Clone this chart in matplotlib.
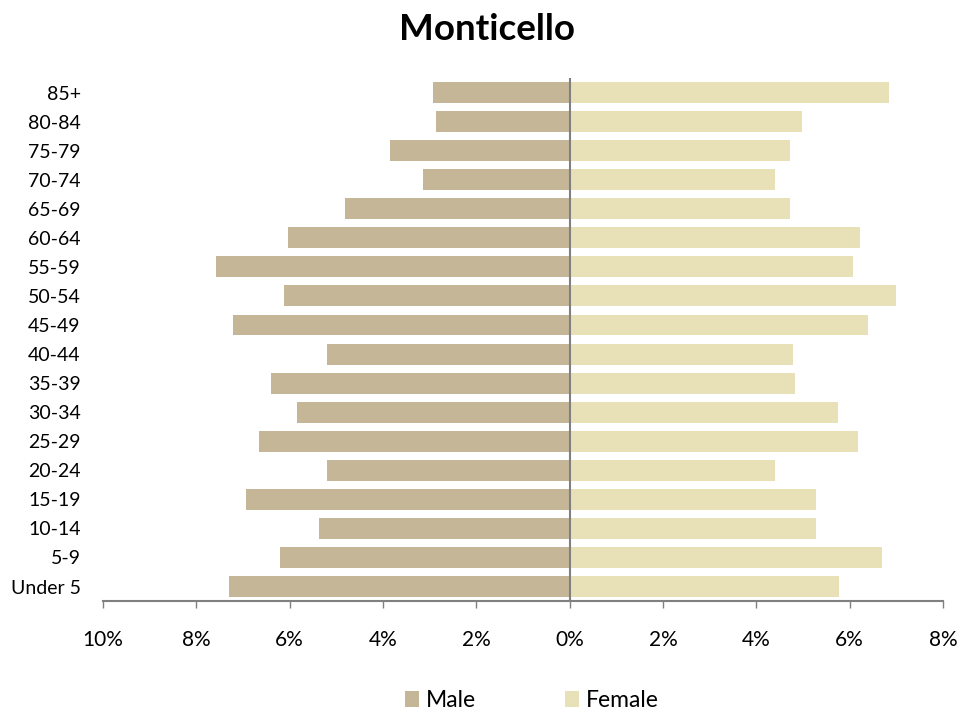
import matplotlib.pyplot as plt
import numpy as np

# age groups, bottom to top
ages = ['Under 5', '5-9', '10-14', '15-19', '20-24', '25-29', '30-34', '35-39',
        '40-44', '45-49', '50-54', '55-59', '60-64', '65-69', '70-74', '75-79',
        '80-84', '85+']
# percent of population
male = [7.30, 6.20, 5.37, 6.94, 5.21, 6.66, 5.85, 6.41,
        5.21, 7.22, 6.13, 7.58, 6.04, 4.81, 3.15, 3.85, 2.87, 2.93]
female = [5.78, 6.70, 5.28, 5.28, 4.39, 6.17, 5.74, 4.82,
          4.79, 6.39, 7.00, 6.08, 6.23, 4.73, 4.39, 4.73, 4.97, 6.85]
xticks = [-10, -8, -6, -4, -2, 0, 2, 4, 6, 8]

plt.rcParams['font.family'] = ['Lato', 'DejaVu Sans']

fig = plt.figure(figsize=(9.74, 7.13), dpi=100)
ax = fig.add_axes([0.1057, 0.157, 0.8625, 0.7336])

y = np.arange(len(ages))
ax.barh(y, [-m for m in male], height=0.72, color='#C4B696', label='Male')
ax.barh(y, female, height=0.72, color='#E8E1B7', label='Female')

ax.axvline(0, color='#808080', lw=1.5, zorder=3)

ax.set_xlim(-10, 8)
ax.set_ylim(-0.5, 17.5)
ax.set_xticks(xticks)
ax.set_xticklabels([f'{abs(t)}%' for t in xticks], fontsize=15)
ax.set_yticks(y)
ax.set_yticklabels(ages, fontsize=14)

for s in ['top', 'right', 'left']:
    ax.spines[s].set_visible(False)
ax.spines['bottom'].set_color('#808080')
ax.spines['bottom'].set_linewidth(1.5)
ax.tick_params(axis='x', direction='out', length=5, width=1, color='#808080', pad=16)
ax.tick_params(axis='y', length=0, pad=16)

fig.suptitle('Monticello', fontsize=26.5, fontweight='bold', y=0.982)

fig.legend(loc='lower center', bbox_to_anchor=(0.546, -0.026), ncol=2, frameon=False,
           fontsize=16.5, handlelength=0.6, handleheight=0.7, handletextpad=0.3,
           columnspacing=3.9)

fig.savefig('out.png', dpi=100)
